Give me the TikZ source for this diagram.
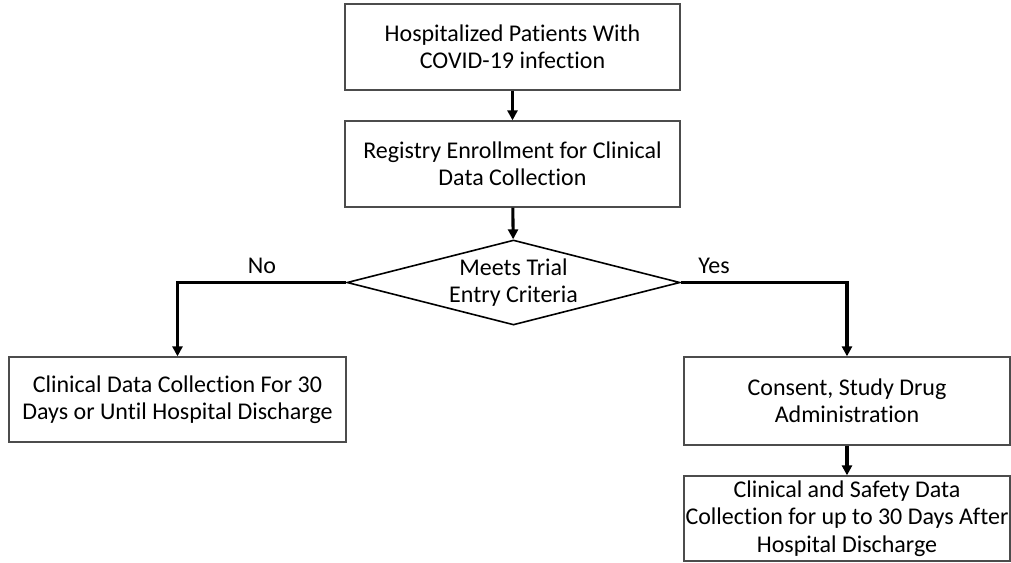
\documentclass[tikz,border=0pt]{standalone}
\usepackage{fontspec}
\setmainfont{Carlito}[Ligatures=NoCommon]
\usepackage{tikz}
\usetikzlibrary{arrows.meta,shapes.geometric}

\begin{document}
\begin{tikzpicture}[x=0.75pt, y=0.75pt, >={Triangle[length=7.5pt,width=7.5pt]},
  every node/.style={font=\fontsize{18pt}{20.5pt}\selectfont, align=center},
  stepbox/.style={draw=black!70, line width=1pt, inner sep=0pt},
  flow/.style={->, line width=2.3pt}]
  % fixed frame, same size as the slide
  \useasboundingbox (0,0) rectangle (1011,-562);

  % Boxes
  \node[stepbox, minimum width=335*0.75pt, minimum height=86*0.75pt] (hosp) at (512.5,-47)
    {Hospitalized Patients With\\COVID-19 infection};
  \node[stepbox, minimum width=335*0.75pt, minimum height=86*0.75pt] (reg) at (512.5,-164)
    {Registry Enrollment for Clinical\\Data Collection};
  \node[stepbox, draw=black, line width=1.2pt, diamond, aspect=3.9, minimum width=333*0.75pt, minimum height=85*0.75pt] (crit) at (513.5,-282.5)
    {Meets Trial\\Entry Criteria};
  \node[stepbox, minimum width=337*0.75pt, minimum height=85*0.75pt] (regdata) at (177.5,-399.5)
    {Clinical Data Collection For 30\\Days or Until Hospital Discharge};
  \node[stepbox, minimum width=326*0.75pt, minimum height=88*0.75pt] (consent) at (847,-401)
    {Consent, Study Drug\\Administration};
  \node[stepbox, minimum width=326*0.75pt, minimum height=85*0.75pt] (safety) at (847,-518.5)
    {Clinical and Safety Data\\Collection for up to 30 Days After\\Hospital Discharge};

  % Arrows
  \draw[flow] (hosp) -- (reg);
  \draw[flow] (reg) -- (crit);
  \draw[flow] (crit.west) -| node[pos=0.25, above=2pt] {No} (regdata.north);
  \draw[flow] (crit.east) -| node[pos=0.1, above=2pt] {Yes} (consent.north);
  \draw[flow] (consent) -- (safety);
\end{tikzpicture}
\end{document}
